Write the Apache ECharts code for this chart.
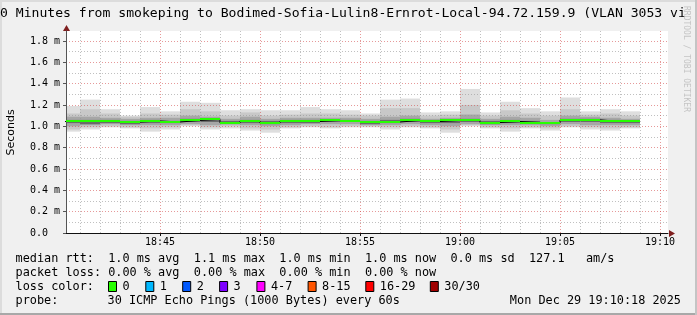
<!DOCTYPE html>
<html><head><meta charset="utf-8">
<script src="https://cdn.jsdelivr.net/npm/echarts@6/dist/echarts.min.js"></script>
<style>html,body{margin:0;padding:0;background:#f0f0f0;overflow:hidden}#c{width:697px;height:315px}</style>
</head><body><div id="c"></div>
<script>
// ---- data (milliseconds) ----
const barStart = ['18:40','18:41','18:42','18:43','18:44','18:45','18:46','18:47','18:48','18:49',
                  '18:50','18:51','18:52','18:53','18:54','18:55','18:56','18:57','18:58','18:59',
                  '19:00','19:01','19:02','19:03','19:04','19:05','19:06','19:07','19:08'];
const rttMin    = [0.95,0.97,0.99,0.98,0.95,0.97,1.00,0.97,0.98,0.96,0.94,0.98,0.99,0.98,0.99,0.99,0.97,0.99,0.98,0.94,1.00,0.98,0.95,0.98,0.96,0.99,0.97,0.96,0.98];
const rttP10    = [0.97,0.99,1.00,0.99,0.98,0.99,1.01,0.99,1.00,0.98,0.97,0.99,1.00,0.99,1.00,1.00,0.99,1.00,0.99,0.97,1.01,0.99,0.98,0.99,0.98,1.00,0.99,0.98,0.99];
const rttP25    = [1.00,1.01,1.02,1.01,1.01,1.01,1.02,1.01,1.02,1.01,1.00,1.01,1.02,1.02,1.02,1.01,1.01,1.02,1.01,1.00,1.02,1.01,1.01,1.01,1.00,1.02,1.01,1.01,1.01];
const rttP40    = [1.03,1.02,1.03,1.02,1.03,1.03,1.04,1.04,1.02,1.03,1.02,1.03,1.03,1.04,1.04,1.02,1.03,1.04,1.03,1.03,1.04,1.02,1.03,1.03,1.02,1.04,1.04,1.03,1.03];
const rttMedian = [1.045,1.045,1.045,1.04,1.05,1.04,1.055,1.065,1.03,1.05,1.03,1.05,1.045,1.055,1.045,1.04,1.04,1.055,1.045,1.055,1.055,1.035,1.045,1.035,1.03,1.06,1.06,1.045,1.045];
const rttP60    = [1.06,1.06,1.06,1.05,1.06,1.05,1.07,1.07,1.05,1.06,1.05,1.06,1.06,1.06,1.06,1.05,1.06,1.07,1.05,1.06,1.07,1.05,1.06,1.05,1.04,1.07,1.07,1.06,1.05];
const rttP75    = [1.09,1.09,1.08,1.07,1.08,1.08,1.10,1.09,1.07,1.09,1.07,1.08,1.08,1.08,1.08,1.07,1.09,1.10,1.07,1.08,1.11,1.07,1.09,1.08,1.06,1.10,1.09,1.08,1.07];
const rttP90    = [1.12,1.16,1.12,1.09,1.12,1.11,1.16,1.14,1.10,1.13,1.10,1.11,1.12,1.12,1.11,1.10,1.17,1.17,1.10,1.11,1.20,1.10,1.15,1.12,1.10,1.16,1.11,1.12,1.10];
const rttMax    = [1.19,1.25,1.16,1.10,1.18,1.14,1.23,1.22,1.15,1.16,1.15,1.15,1.18,1.16,1.15,1.12,1.25,1.26,1.13,1.14,1.35,1.13,1.23,1.17,1.14,1.27,1.14,1.16,1.14];

const lossLabels = ['0','1','2','3','4-7','8-15','16-29','30/30'];
const lossColors = ['#26ff00','#00b8ff','#0059ff','#7e00ff','#ff00ff','#ff5500','#ff0000','#a00000'];

const titleText = '0 Minutes from smokeping to Bodimed-Sofia-Lulin8-Ernrot-Local-94.72.159.9 (VLAN 3053 vi';
const legendRtt  = 'median rtt:  1.0 ms avg  1.1 ms max  1.0 ms min  1.0 ms now  0.0 ms sd  127.1   am/s';
const legendLoss = 'packet loss: 0.00 % avg  0.00 % max  0.00 % min  0.00 % now';
const legendColorHead = 'loss color:';
const probeHead = 'probe:';
const probeText = '30 ICMP Echo Pings (1000 Bytes) every 60s';
const dateText = 'Mon Dec 29 19:10:18 2025';
const yName = 'Seconds';
const watermark = 'RRDTOOL / TOBI OETIKER';

// ---- helpers ----
const BASE = 18*60+40;
const toMin = s => { const p = s.split(':').map(Number); return p[0]*60+p[1]-BASE; };
const fmtMin = v => { const t = BASE + Math.round(v); return String(Math.floor(t/60)).padStart(2,'0')+':'+String(t%60).padStart(2,'0'); };
const MONO = '"DejaVu Sans Mono", monospace';

const smokeData = barStart.map((s,i)=>[toMin(s), toMin(s)+1, rttMin[i], rttP10[i], rttP25[i], rttP40[i], rttMedian[i], rttP60[i], rttP75[i], rttP90[i], rttMax[i]]);
const stepData = barStart.map((s,i)=>[toMin(s), rttMedian[i]]);
stepData.push([toMin(barStart[barStart.length-1])+1, rttMedian[rttMedian.length-1]]);

const GL = 66, GT = 31, GW = 602, GH = 202;

function smokeItem(params, api){
  const x0 = api.coord([api.value(0), 0])[0];
  const x1 = api.coord([api.value(1), 0])[0];
  const y = v => api.coord([0, v])[1];
  const layers = [[2,10,'#dedede'],[3,9,'#c8c8c8'],[4,8,'#a6a6a6'],[5,7,'#6a6a6a']];
  return {type:'group', children: layers.map(l => {
    const yt = y(api.value(l[1])), yb = y(api.value(l[0]));
    return {type:'rect', shape:{x:x0, y:yt, width:x1-x0, height:yb-yt}, style:{fill:l[2]}};
  })};
}
function medianItem(params, api){
  const x0 = api.coord([api.value(0), 0])[0];
  const x1 = api.coord([api.value(1), 0])[0];
  const ym = api.coord([0, api.value(6)])[1];
  return {type:'rect', shape:{x:x0, y:Math.round(ym)-1, width:x1-x0, height:2}, style:{fill:lossColors[0]}};
}

const gridDash = {color:'rgba(210,70,70,0.55)', type:[1,2], width:1};
const minorDash = {color:'rgba(150,150,150,0.6)', type:[1,2], width:1};

const graphics = [
  {type:'rect', shape:{x:0,y:0,width:697,height:2}, style:{fill:'#dcdcdc'}, silent:true},
  {type:'rect', shape:{x:0,y:0,width:2,height:315}, style:{fill:'#dcdcdc'}, silent:true},
  {type:'rect', shape:{x:0,y:313,width:697,height:2}, style:{fill:'#a8a8a8'}, silent:true},
  {type:'rect', shape:{x:695,y:0,width:2,height:315}, style:{fill:'#c4c4c4'}, silent:true},
  {type:'text', x:0, y:13.5, style:{text:titleText, font:'13.1px '+MONO, fill:'#000', align:'left', verticalAlign:'middle'}},
  {type:'text', x:11.5, y:132.5, rotation:Math.PI/2, style:{text:yName, font:'11px "DejaVu Sans", sans-serif', fill:'#000', align:'center', verticalAlign:'middle'}},
  {type:'text', x:686.5, y:59, rotation:-Math.PI/2, style:{text:watermark, font:'8px '+MONO, fill:'#c4c4c4', align:'center', verticalAlign:'middle'}},
  // arrows
  {type:'polygon', shape:{points:[[GL+GW+1,GT+GH-3],[GL+GW+7,GT+GH+0.5],[GL+GW+1,GT+GH+4]]}, style:{fill:'#7f1f1f'}},
  {type:'polygon', shape:{points:[[GL-3,GT],[GL+0.5,GT-6],[GL+4,GT]]}, style:{fill:'#7f1f1f'}},
  // legend
  {type:'text', x:15.5, y:259, style:{text:legendRtt, font:'11.85px '+MONO, fill:'#000', verticalAlign:'middle'}},
  {type:'text', x:15.5, y:273, style:{text:legendLoss, font:'11.85px '+MONO, fill:'#000', verticalAlign:'middle'}},
  {type:'text', x:15.5, y:287, style:{text:legendColorHead, font:'11.85px '+MONO, fill:'#000', verticalAlign:'middle'}},
  {type:'text', x:15.5, y:301, style:{text:probeHead, font:'11.85px '+MONO, fill:'#000', verticalAlign:'middle'}},
  {type:'text', x:107.5, y:301, style:{text:probeText, font:'11.85px '+MONO, fill:'#000', verticalAlign:'middle'}},
  {type:'text', x:681, y:301, style:{text:dateText, font:'11.85px '+MONO, fill:'#000', align:'right', verticalAlign:'middle'}}
];
const boxX = [108,145.3,182.2,219.1,256.4,307.6,365.3,429.8];
lossLabels.forEach((lab,i)=>{
  graphics.push({type:'rect', shape:{x:boxX[i]+0.5, y:281.5, width:8, height:10}, style:{fill:lossColors[i], stroke:'#000', lineWidth:1}});
  graphics.push({type:'text', x:boxX[i]+14.5, y:287, style:{text:lab, font:'11.85px '+MONO, fill:'#000', verticalAlign:'middle'}});
});

const chart = echarts.init(document.getElementById('c'), null, {renderer:'canvas', width:697, height:315});
chart.setOption({
  animation:false,
  backgroundColor:'#f0f0f0',
  grid:{left:GL, top:GT, width:GW, height:GH, show:true, backgroundColor:'#ffffff', borderWidth:0, containLabel:false},
  xAxis:{
    type:'value', min:0.3, max:30.4, z:3,
    axisLine:{show:true, lineStyle:{color:'#111', width:1}},
    axisTick:{show:true, length:3, lineStyle:{color:'#111'}},
    minorTick:{show:false, splitNumber:5},
    axisLabel:{show:true, margin:4, color:'#000', fontFamily:'DejaVu Sans Mono', fontSize:10, showMinLabel:false, showMaxLabel:false,
      formatter: v => (Math.abs(v/5 - Math.round(v/5)) < 1e-6 ? fmtMin(v) : '')},
    splitLine:{show:true, showMinLine:false, showMaxLine:false, lineStyle:gridDash},
    minorSplitLine:{show:true, lineStyle:minorDash}
  },
  yAxis:{
    type:'value', min:0, max:1.893, interval:0.2, z:3,
    axisLine:{show:true, lineStyle:{color:'#555', width:1}},
    axisTick:{show:true, length:3, lineStyle:{color:'#555'}},
    minorTick:{show:false, splitNumber:2},
    axisLabel:{show:true, align:'left', margin:36, color:'#000', fontFamily:'DejaVu Sans Mono', fontSize:10, showMaxLabel:false,
      formatter: v => (v === 0 ? '0.0' : (Math.abs(v/0.2 - Math.round(v/0.2)) < 1e-6 ? v.toFixed(1)+' m' : ''))},
    splitLine:{show:true, showMinLine:false, showMaxLine:false, lineStyle:gridDash},
    minorSplitLine:{show:true, lineStyle:minorDash}
  },
  series:[
    {type:'custom', name:'smoke', z:1, clip:true, renderItem:smokeItem, data:smokeData, encode:{x:[0,1], y:[2,10]}, silent:true},
    {type:'line', name:'step', z:4, step:'end', showSymbol:false, symbol:'none', data:stepData, lineStyle:{color:'#000', width:1}, silent:true},
    {type:'custom', name:'median', z:5, clip:true, renderItem:medianItem, data:smokeData, encode:{x:[0,1], y:6}, silent:true}
  ],
  graphic:graphics
});
</script></body></html>
